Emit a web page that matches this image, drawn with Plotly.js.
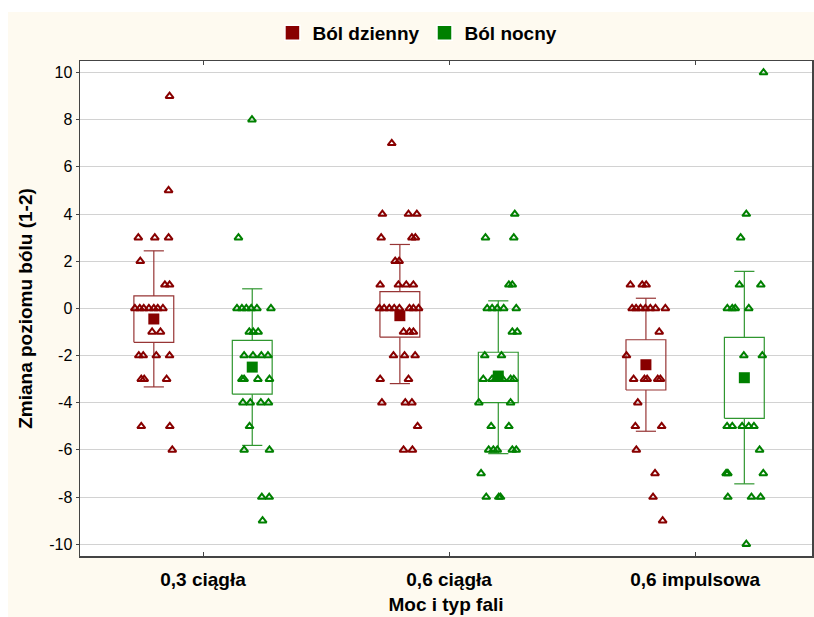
<!DOCTYPE html>
<html><head><meta charset="utf-8">
<script src="https://cdn.plot.ly/plotly-3.0.1.min.js"></script>
<style>html,body{margin:0;padding:0;background:#ffffff;overflow:hidden;} #chart{position:absolute;left:8px;top:12px;width:806px;height:605px;}</style>
</head><body><div id="chart"></div>
<script>
// ---- data ----
const categories = ['0,3 ciągła', '0,6 ciągła', '0,6 impulsowa'];
const seriesNames = ['Ból dzienny', 'Ból nocny'];
const yTicks = [-10, -8, -6, -4, -2, 0, 2, 4, 6, 8, 10];

// individual observations (value) and horizontal jitter (% of category width)
const dzienny03 = [9,5,3,3,3,2,1,1,0,0,0,0,0,0,0,-1,-1,-2,-2,-2,-2,-3,-3,-3,-5,-5,-6];
const dzienny03J = [6.4,6.0,-6.3,0.4,6.0,-5.5,4.5,6.4,-7.7,-5.7,-4.1,-2.0,0,1.6,3.7,-0.7,2.7,-6.1,-4.3,1.0,6.4,-5.1,-3.9,5.2,-5.1,6.5,7.5];
const nocny03 = [8,3,0,0,0,0,0,0,-1,-1,-1,-2,-2,-2,-2,-3,-3,-3,-3,-4,-4,-4,-4,-5,-6,-6,-8,-8,-9];
const nocny03J = [-0.1,-5.6,-6.2,-4.2,-2.4,-0.4,1.9,7.6,-1.2,0.4,2.4,-3.3,0.3,3.7,6.4,-4.2,-3.3,2.3,7.0,-3.8,-0.8,3.5,6.6,-1.1,-3.3,7.0,3.9,6.9,4.2];
const dzienny06 = [7,4,4,4,3,3,3,2,2,1,1,1,1,0,0,0,0,0,0,0,0,-1,-1,-1,-2,-2,-2,-3,-3,-4,-4,-4,-5,-6,-6];
const dzienny06J = [-3.3,-7.1,3.5,6.9,-7.6,4.9,6.3,-1.9,-0.3,-8.0,-0.6,2.6,5.5,-8.3,-6.4,-4.3,-2.3,-0.2,3.9,5.5,7.6,1.5,3.9,5.5,-2.6,1.9,6.2,-8.0,3.5,-7.3,2.2,4.9,7.2,1.5,5.1];
const nocny06 = [4,3,3,1,1,0,0,0,0,0,-1,-1,-2,-2,-3,-3,-3,-3,-3,-3,-4,-4,-5,-5,-6,-6,-6,-6,-6,-7,-8,-8,-8];
const nocny06J = [6.7,-5.2,6.3,4.3,5.7,-4.5,-2.5,-0.4,2.2,7.3,5.7,7.7,-5.5,1.3,-6.1,-2.5,-1.1,1.8,5.0,6.3,-7.9,5.0,-2.9,4.3,-3.9,-2.0,-0.4,5.7,7.3,-7.0,-4.9,0.2,0.9];
const dziennyImp = [1,1,1,0,0,0,0,0,0,0,-1,-2,-3,-3,-3,-3,-3,-4,-5,-5,-6,-7,-8,-9];
const dziennyImpJ = [-6.3,-1.5,0.1,-5.6,-4.0,-2.2,-0.2,1.8,3.9,7.9,5.4,-7.9,-5.0,-0.6,0.5,4.8,5.9,-3.3,-4.3,6.4,-3.9,3.7,2.9,6.8];
const nocnyImp = [10,4,3,1,1,0,0,0,0,-2,-2,-5,-5,-5,-5,-5,-6,-7,-7,-7,-8,-8,-8,-10];
const nocnyImpJ = [7.8,0.8,-1.5,-2.0,6.7,-6.9,-4.9,-3.7,1.8,-0.2,7.3,-7.0,-4.9,-0.9,1.8,3.9,6.2,-7.4,-6.7,7.7,-6.7,2.9,6.6,0.8];

// summary statistics per category: mean, box (low/high), whiskers (low/high)
const dziennyMean = [-0.45, -0.31, -2.39];
const dziennyBoxLo = [-1.44, -1.22, -3.46];
const dziennyBoxHi = [0.53, 0.71, -1.33];
const dziennyWhLo = [-3.33, -3.19, -5.21];
const dziennyWhHi = [2.44, 2.71, 0.43];
const nocnyMean = [-2.49, -2.87, -2.94];
const nocnyBoxLo = [-3.64, -4.00, -4.66];
const nocnyBoxHi = [-1.36, -1.86, -1.23];
const nocnyWhLo = [-5.81, -6.16, -7.44];
const nocnyWhHi = [0.83, 0.32, 1.57];

// ---- drawing ----
const FONT = 'Arial, "Liberation Sans", sans-serif';
const pointColor = ['#880000', '#008000'];
const boxColor = ['#973535', '#2f962f'];
const seriesOffset = [-0.2, 0.2];
const boxHalf = 0.081, capHalf = 0.041;

const series = [
  {pts: [dzienny03, dzienny06, dziennyImp], jit: [dzienny03J, dzienny06J, dziennyImpJ],
   mean: dziennyMean, lo: dziennyBoxLo, hi: dziennyBoxHi, wl: dziennyWhLo, wh: dziennyWhHi},
  {pts: [nocny03, nocny06, nocnyImp], jit: [nocny03J, nocny06J, nocnyImpJ],
   mean: nocnyMean, lo: nocnyBoxLo, hi: nocnyBoxHi, wl: nocnyWhLo, wh: nocnyWhHi}
];

const traces = [];
series.forEach((s, si) => {
  const off = seriesOffset[si];
  const bx = [], by = [];
  s.mean.forEach((m, i) => {
    const c = i + off;
    bx.push(c - boxHalf, c + boxHalf, c + boxHalf, c - boxHalf, c - boxHalf, null);
    by.push(s.lo[i], s.lo[i], s.hi[i], s.hi[i], s.lo[i], null);
    bx.push(c, c, null, c - capHalf, c + capHalf, null);
    by.push(s.hi[i], s.wh[i], null, s.wh[i], s.wh[i], null);
    bx.push(c, c, null, c - capHalf, c + capHalf, null);
    by.push(s.lo[i], s.wl[i], null, s.wl[i], s.wl[i], null);
  });
  traces.push({type: 'scatter', mode: 'lines', x: bx, y: by, showlegend: false, hoverinfo: 'skip',
    line: {color: boxColor[si], width: 1.2}});
});
series.forEach((s, si) => {
  const off = seriesOffset[si];
  traces.push({type: 'scatter', mode: 'markers', name: seriesNames[si],
    x: s.mean.map((m, i) => i + off), y: s.mean, showlegend: false,
    marker: {symbol: 'square', size: 11, color: pointColor[si]}});
});
series.forEach((s, si) => {
  const off = seriesOffset[si];
  const px = [], py = [];
  s.pts.forEach((arr, g) => {
    arr.forEach((v, k) => { px.push(g + off + s.jit[g][k] / 100); py.push(v); });
  });
  traces.push({type: 'scatter', mode: 'markers', x: px, y: py, showlegend: false,
    marker: {symbol: 'triangle-up-open', size: 7, color: pointColor[si], line: {width: 2, color: pointColor[si]}}});
});
// legend entries
series.forEach((s, si) => {
  traces.push({type: 'scatter', mode: 'markers', name: seriesNames[si], x: [null], y: [null],
    showlegend: true, hoverinfo: 'skip',
    marker: {symbol: 'square', size: 15, color: pointColor[si], line: {width: 1.5, color: '#ffffff'}}});
});

const layout = {
  width: 806, height: 605,
  paper_bgcolor: '#FEFAF0', plot_bgcolor: '#ffffff',
  margin: {l: 72, r: 2, t: 49, b: 61},
  font: {family: FONT, color: '#000'},
  showlegend: true,
  legend: {orientation: 'h', x: 0.461, xanchor: 'center', y: 1.057, yanchor: 'middle',
    bgcolor: 'rgba(0,0,0,0)', font: {family: FONT, size: 19, weight: 'bold'}, itemwidth: 30,
    traceorder: 'normal'},
  xaxis: {range: [-0.5, 2.475], tickvals: [0, 1, 2], ticktext: categories,
    showgrid: false, zeroline: false, showline: true, linecolor: '#444', linewidth: 1.5, mirror: 'ticks',
    ticks: 'inside', ticklen: 4, tickcolor: '#444', tickfont: {family: FONT, size: 19, weight: 'bold'},
    ticklabelstandoff: 6,
    title: {text: 'Moc i typ fali', font: {family: FONT, size: 19, weight: 'bold'}, standoff: 8}},
  yaxis: {range: [-10.5, 10.49], tickvals: yTicks, ticktext: yTicks.map(String),
    showgrid: true, gridcolor: '#d2d2d2', gridwidth: 1, zeroline: false,
    showline: true, linecolor: '#444', linewidth: 1.5, mirror: 'ticks',
    ticks: 'outside', ticklen: 3, tickcolor: '#444', tickfont: {family: FONT, size: 16},
    title: {text: 'Zmiana poziomu bólu (1-2)', font: {family: FONT, size: 19, weight: 'bold'}, standoff: 11}}
};

Plotly.newPlot('chart', traces, layout, {displayModeBar: false, staticPlot: true});
</script></body></html>
